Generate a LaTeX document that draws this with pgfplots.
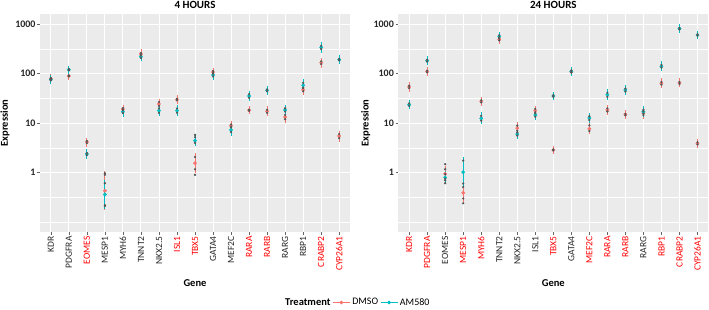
\documentclass[border=0pt]{standalone}
\usepackage{pgfplots}
\usepackage{pgfplotstable}
\pgfplotsset{compat=1.18}
\usepackage{fontspec}
\setmainfont{Carlito}
\definecolor{ggred}{HTML}{F8766D}
\definecolor{ggteal}{HTML}{00BFC4}
\definecolor{ggbg}{HTML}{EBEBEB}
\definecolor{lab}{HTML}{FF0000}
\definecolor{rep}{HTML}{555555}

\pgfplotstableread{
i dm dlo dhi am alo ahi
0 79 76 82 76 73 79
1 90 88 92 120 117 124
2 4.15 3.95 4.35 2.38 2.25 2.5
3 0.43 0.21 0.9 0.36 0.22 0.61
4 19.3 18.5 20.2 17.0 16.0 18.2
5 250 238 262 220 208 233
6 24.4 22.2 26.7 17.9 16.2 19.8
7 29.9 29.0 31.0 17.9 16.2 19.8
8 1.55 1.17 2.07 4.43 4.0 5.2
9 108 103 113 94 88 100
10 8.9 8.4 9.4 7.3 6.6 8.2
11 18.2 17.7 18.7 35.4 32.5 38.5
12 17.4 16.2 18.6 46 44 48
13 13.3 12.0 14.7 18.5 17.1 20.0
14 47.5 44 51 58 52 65
15 167 156 178 340 315 365
16 5.5 5.0 6.0 192 186 198
}\fourh

\pgfplotstableread{
i dm dlo dhi am alo ahi
0 54 51 57 23.6 22.3 25
1 111 107 115 183 175 191
2 0.95 0.75 1.17 0.8 0.7 0.93
3 0.39 0.3 0.51 1.02 0.6 1.75
4 27.6 26.3 29.0 12.5 11.2 14.0
5 494 470 520 568 540 598
6 7.9 7.0 8.9 6.0 5.6 6.5
7 17.9 16.6 19.3 14.6 13.5 15.8
8 2.87 2.8 2.94 35.4 34.0 36.8
9 110 106 114 111 106 116
10 7.7 6.95 9.0 12.7 11.6 13.8
11 18.5 17.2 19.9 37.4 34 41
12 14.9 14.4 15.4 46.8 43.5 50
13 16.0 14.6 17.5 17.0 15.5 18.6
14 64 60 68 141 133 150
15 65 62 68 812 785 840
16 3.9 3.7 4.1 605 585 625
}\twentyfourh

\pgfplotstableread{
i y
3 0.97
8 0.9
8 5.8
}\repfour
\pgfplotstableread{
i y
2 1.48
2 0.61
3 0.24
}\reptwentyfour

\begin{document}
\begin{tikzpicture}
\path[use as bounding box] (0pt,0pt) rectangle (709pt,310pt);

\begin{axis}[at={(40pt,78pt)}, anchor=south west,
    scale only axis, width=310pt, height=218pt,
    xmin=-0.6, xmax=16.6, xtick={0,...,16},
    ymode=log, ymin=0.0631, ymax=1607,
    ytick={1,10,100,1000}, yticklabels={1,10,100,1000},
    minor ytick={0.1,0.3162,3.162,31.62,316.2},
    xmajorgrids, ymajorgrids, yminorgrids,
    major grid style={white, line width=0.9pt},
    minor grid style={white, line width=0.45pt},
    axis background/.style={fill=ggbg},
    axis line style={draw=none},
    tick pos=left, tick align=outside,
    major tick length=2.75pt, minor tick length=0pt,
    tick style={black!60, line width=0.5pt},
    yticklabel style={font=\bfseries\fontsize{10}{11}\selectfont, text=black!85, inner sep=1.5pt},
    xticklabel style={rotate=90, anchor=east, font=\fontsize{9.5}{10}\selectfont, text=black!85, inner sep=1.5pt},
    every axis title/.style={at={(axis description cs:0.5,1)}, anchor=base, yshift=5pt, font=\bfseries\fontsize{11}{12}\selectfont},
    xlabel style={at={(axis description cs:0.5,-0.234)}, anchor=center, font=\bfseries\fontsize{10.5}{12}\selectfont},
    ylabel style={at={(axis description cs:-0.1129,0.5)}, anchor=center, font=\bfseries\fontsize{10.5}{12}\selectfont},
    xlabel={Gene}, ylabel={Expression}, title={4 HOURS},
    clip=false,
  xticklabels={KDR,PDGFRA,\textcolor{lab}{EOMES},MESP1,MYH6,TNNT2,NKX2.5,\textcolor{lab}{ISL1},\textcolor{lab}{TBX5},GATA4,MEF2C,\textcolor{lab}{RARA},\textcolor{lab}{RARB},RARG,RBP1,\textcolor{lab}{CRABP2},\textcolor{lab}{CYP26A1}},
]
\addplot[ggred, only marks, mark=*, mark size=1.7pt,
    error bars/.cd, y dir=both, y explicit, error mark=-,
    error mark options={ggred, mark size=3.5pt, line width=0.8pt},
    error bar style={ggred, line width=0.8pt}]
  table[x=i, y=dm, y error plus expr=\thisrow{dhi}-\thisrow{dm}, y error minus expr=\thisrow{dm}-\thisrow{dlo}] {\fourh};
\addplot[ggteal, only marks, mark=*, mark size=1.7pt,
    error bars/.cd, y dir=both, y explicit, error mark=-,
    error mark options={ggteal, mark size=3.5pt, line width=0.8pt},
    error bar style={ggteal, line width=0.8pt}]
  table[x=i, y=am, y error plus expr=\thisrow{ahi}-\thisrow{am}, y error minus expr=\thisrow{am}-\thisrow{alo}] {\fourh};
\addplot[rep, only marks, mark=*, mark size=0.9pt] table[x=i, y=dlo] {\fourh};
\addplot[rep, only marks, mark=*, mark size=0.9pt] table[x=i, y=dhi] {\fourh};
\addplot[rep, only marks, mark=*, mark size=0.9pt] table[x=i, y=alo] {\fourh};
\addplot[rep, only marks, mark=*, mark size=0.9pt] table[x=i, y=ahi] {\fourh};
\addplot[rep, only marks, mark=*, mark size=0.9pt] table[x=i, y=y] {\repfour};
\end{axis}

\begin{axis}[at={(398.3pt,78pt)}, anchor=south west,
    scale only axis, width=310pt, height=218pt,
    xmin=-0.6, xmax=16.6, xtick={0,...,16},
    ymode=log, ymin=0.0631, ymax=1607,
    ytick={1,10,100,1000}, yticklabels={1,10,100,1000},
    minor ytick={0.1,0.3162,3.162,31.62,316.2},
    xmajorgrids, ymajorgrids, yminorgrids,
    major grid style={white, line width=0.9pt},
    minor grid style={white, line width=0.45pt},
    axis background/.style={fill=ggbg},
    axis line style={draw=none},
    tick pos=left, tick align=outside,
    major tick length=2.75pt, minor tick length=0pt,
    tick style={black!60, line width=0.5pt},
    yticklabel style={font=\bfseries\fontsize{10}{11}\selectfont, text=black!85, inner sep=1.5pt},
    xticklabel style={rotate=90, anchor=east, font=\fontsize{9.5}{10}\selectfont, text=black!85, inner sep=1.5pt},
    every axis title/.style={at={(axis description cs:0.5,1)}, anchor=base, yshift=5pt, font=\bfseries\fontsize{11}{12}\selectfont},
    xlabel style={at={(axis description cs:0.5,-0.234)}, anchor=center, font=\bfseries\fontsize{10.5}{12}\selectfont},
    ylabel style={at={(axis description cs:-0.105,0.5)}, anchor=center, font=\bfseries\fontsize{10.5}{12}\selectfont},
    xlabel={Gene}, ylabel={Expression}, title={24 HOURS},
    clip=false,
  xticklabels={\textcolor{lab}{KDR},\textcolor{lab}{PDGFRA},EOMES,\textcolor{lab}{MESP1},\textcolor{lab}{MYH6},TNNT2,NKX2.5,ISL1,\textcolor{lab}{TBX5},GATA4,\textcolor{lab}{MEF2C},\textcolor{lab}{RARA},\textcolor{lab}{RARB},RARG,\textcolor{lab}{RBP1},\textcolor{lab}{CRABP2},\textcolor{lab}{CYP26A1}},
]
\addplot[ggred, only marks, mark=*, mark size=1.7pt,
    error bars/.cd, y dir=both, y explicit, error mark=-,
    error mark options={ggred, mark size=3.5pt, line width=0.8pt},
    error bar style={ggred, line width=0.8pt}]
  table[x=i, y=dm, y error plus expr=\thisrow{dhi}-\thisrow{dm}, y error minus expr=\thisrow{dm}-\thisrow{dlo}] {\twentyfourh};
\addplot[ggteal, only marks, mark=*, mark size=1.7pt,
    error bars/.cd, y dir=both, y explicit, error mark=-,
    error mark options={ggteal, mark size=3.5pt, line width=0.8pt},
    error bar style={ggteal, line width=0.8pt}]
  table[x=i, y=am, y error plus expr=\thisrow{ahi}-\thisrow{am}, y error minus expr=\thisrow{am}-\thisrow{alo}] {\twentyfourh};
\addplot[rep, only marks, mark=*, mark size=0.9pt] table[x=i, y=dlo] {\twentyfourh};
\addplot[rep, only marks, mark=*, mark size=0.9pt] table[x=i, y=dhi] {\twentyfourh};
\addplot[rep, only marks, mark=*, mark size=0.9pt] table[x=i, y=alo] {\twentyfourh};
\addplot[rep, only marks, mark=*, mark size=0.9pt] table[x=i, y=ahi] {\twentyfourh};
\addplot[rep, only marks, mark=*, mark size=0.9pt] table[x=i, y=y] {\reptwentyfour};
\end{axis}

\begin{axis}[hide axis, scale only axis, width=10pt, height=10pt, at={(283pt,7.5pt)}, anchor=west,
  xmin=0, xmax=1, ymin=0, ymax=1,
  legend style={at={(0,0.5)}, anchor=west, draw=none, fill=none,
    font=\fontsize{10}{11}\selectfont, inner sep=0pt},
  legend columns=-1, legend cell align=left]
\addlegendimage{empty legend}
\addlegendentry{\bfseries\fontsize{10.5}{12}\selectfont Treatment}
\addlegendimage{ggred, line width=0.7pt, mark=*, mark size=1.5pt}
\addlegendentry{DMSO}
\addlegendimage{ggteal, line width=0.7pt, mark=*, mark size=1.5pt}
\addlegendentry{AM580}
\end{axis}
\end{tikzpicture}
\end{document}
